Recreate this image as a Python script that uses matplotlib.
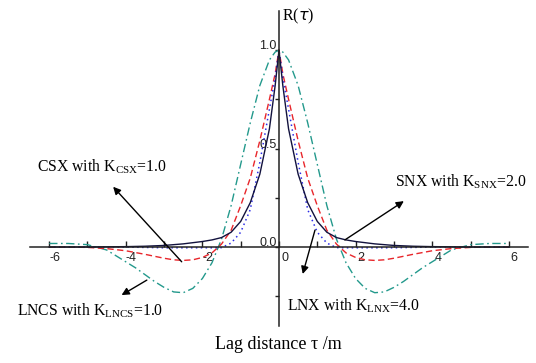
import matplotlib.pyplot as plt
import matplotlib.transforms as mtransforms

plt.rcParams['axes.unicode_minus'] = False
plt.rcParams['mathtext.fontset'] = 'custom'
plt.rcParams['mathtext.rm'] = 'Liberation Serif'

# lag distances (m)
lag = [-6, -5.5, -5, -4.5, -4, -3.75, -3.5, -3.25, -3, -2.75, -2.5, -2.25, -2, -1.75, -1.5,
       -1.25, -1, -0.75, -0.5, -0.25, -0.1, 0, 0.1, 0.25, 0.5, 0.75, 1, 1.25, 1.5, 1.75,
       2, 2.25, 2.5, 2.75, 3, 3.25, 3.5, 3.75, 4, 4.5, 5, 5.5, 6]

# correlation functions R(tau)
r_solid = [0.0, 0.0, 0.0, 0.001, 0.002, 0.003, 0.004, 0.006, 0.008, 0.012, 0.016, 0.022, 0.028, 0.036, 0.048,
           0.075, 0.13, 0.225, 0.37, 0.60, 0.82, 1.0, 0.82, 0.60, 0.37, 0.225, 0.13, 0.075, 0.048, 0.036,
           0.028, 0.022, 0.016, 0.012, 0.008, 0.006, 0.004, 0.003, 0.002, 0.001, 0.0, 0.0, 0.0]
r_dotted = [0.0, 0.0, 0.0, 0.0, 0.0, -0.001, -0.002, -0.003, -0.004, -0.004, -0.004, -0.004, -0.004, -0.004, -0.003,
            0.02, 0.075, 0.19, 0.43, 0.70, 0.86, 1.0, 0.86, 0.70, 0.43, 0.19, 0.075, 0.02, -0.003, -0.004,
            -0.004, -0.004, -0.004, -0.004, -0.004, -0.003, -0.002, -0.001, 0.0, 0.0, 0.0, 0.0, 0.0]
r_dashed = [0.0, 0.0, -0.002, -0.008, -0.019, -0.028, -0.037, -0.047, -0.057, -0.065, -0.068, -0.065, -0.053, -0.03, 0.015,
            0.085, 0.21, 0.35, 0.54, 0.75, 0.88, 1.0, 0.88, 0.75, 0.54, 0.35, 0.21, 0.085, 0.015, -0.03,
            -0.053, -0.065, -0.068, -0.065, -0.057, -0.047, -0.037, -0.028, -0.019, -0.008, -0.002, 0.0, 0.0]
r_dashdot = [0.018, 0.018, 0.012, -0.015, -0.075, -0.105, -0.14, -0.175, -0.205, -0.228, -0.232, -0.21, -0.16, -0.08, 0.04,
             0.21, 0.42, 0.63, 0.82, 0.95, 0.99, 1.0, 0.99, 0.95, 0.82, 0.63, 0.42, 0.21, 0.04, -0.08,
             -0.16, -0.21, -0.232, -0.228, -0.205, -0.175, -0.14, -0.105, -0.075, -0.015, 0.012, 0.018, 0.018]

x_ticks = [-6, -5, -4, -3, -2, -1, 0, 1, 2, 3, 4, 5, 6]
x_labels = ['-6', '', '-4', '', '-2', '', '0', '', '2', '', '4', '', '6']
y_ticks = [-0.25, 0.0, 0.25, 0.5, 0.75, 1.0]
y_labels = ['', '0.0', '', '0.5', '', '1.0']

fig = plt.figure(figsize=(5.36, 3.63), dpi=100)
ax = fig.add_axes([0.056, 0.1025, 0.929, 0.868])

ax.plot(lag, r_dashdot, color='#23998c', lw=1.0, dashes=(6, 2.5, 1.2, 2.5))
ax.plot(lag, r_dashed, color='#e8262b', lw=1.0, dashes=(4.5, 2.5))
ax.plot(lag, r_dotted, color='#2b2be6', lw=1.1, dashes=(1, 2.2))
ax.plot(lag, r_solid, color='#12123e', lw=1.0)

ax.set_xlim(-6.5, 6.5)
ax.set_ylim(-0.4, 1.2)

# осевые линии через ноль
ax.spines['left'].set_position(('data', 0))
ax.spines['bottom'].set_position(('data', 0))
ax.spines['top'].set_visible(False)
ax.spines['right'].set_visible(False)
for s in ['left', 'bottom']:
    ax.spines[s].set_linewidth(1.1)
    ax.spines[s].set_color('#222222')

ax.set_xticks(x_ticks)
ax.set_xticklabels(x_labels, fontfamily='Liberation Sans', fontsize=9)
ax.set_yticks(y_ticks)
ax.set_yticklabels(y_labels, fontfamily='Liberation Sans', fontsize=9)
ax.tick_params(axis='x', direction='in', length=4, width=1.0, pad=3.5, colors='#222222')
ax.tick_params(axis='y', direction='out', length=3, width=1.0, pad=0, colors='#222222')

# сдвиг подписей делений
for lbl in ax.get_xticklabels():
    lbl.set_transform(lbl.get_transform() + mtransforms.ScaledTranslation(4 / 72, 0, fig.dpi_scale_trans))
for lbl in ax.get_yticklabels():
    lbl.set_transform(lbl.get_transform() + mtransforms.ScaledTranslation(1.5 / 72, 4 / 72, fig.dpi_scale_trans))

ax.text(0.08, 1.17, r'R($\tau$)', fontfamily='Liberation Serif', fontsize=11.5, va='center', ha='left')
fig.text(0.52, 0.05, 'Lag distance \u03c4 /m', fontfamily='Liberation Serif', fontsize=13, ha='center', va='center')

arrow = dict(arrowstyle='-|>', color='black', lw=1.0, mutation_scale=11, shrinkA=0, shrinkB=0)
font = dict(fontfamily='Liberation Serif', fontsize=11.3, va='baseline', ha='left')

ax.annotate('', xy=(-4.33, 0.306), xytext=(-2.54, -0.075), arrowprops=arrow)
ax.text(-6.32, 0.382, r'CSX with K$_{\mathrm{CSX}}$=1.0', **font)

ax.annotate('', xy=(3.26, 0.233), xytext=(1.72, 0.036), arrowprops=arrow)
ax.text(3.03, 0.306, r'SNX with K$_{\mathrm{SNX}}$=2.0', **font)

ax.annotate('', xy=(0.62, -0.137), xytext=(0.94, 0.086), arrowprops=arrow)
ax.text(0.21, -0.32, r'LNX with K$_{\mathrm{LNX}}$=4.0', **font)

ax.annotate('', xy=(-4.11, -0.244), xytext=(-3.45, -0.168), arrowprops=arrow)
ax.text(-6.84, -0.345, r'LNCS with K$_{\mathrm{LNCS}}$=1.0', clip_on=False, **font)

plt.savefig('out.png', dpi=100)
